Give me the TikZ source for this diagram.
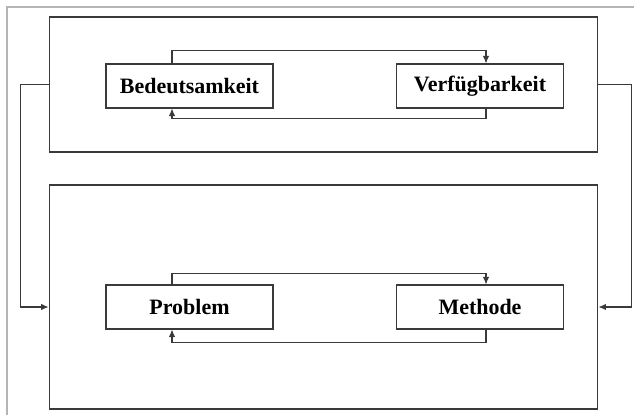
\documentclass[tikz,border=0pt]{standalone}
\usepackage{fontspec}
\setmainfont{Liberation Serif}
\usepackage{tikz}
\usetikzlibrary{arrows.meta, positioning, calc}
\usepackage{xcolor}
\definecolor{ink}{HTML}{3A3A3A}
\definecolor{rim}{HTML}{B4B4B4}

\begin{document}
\begin{tikzpicture}[x=0.02cm, y=0.02cm,
    every node/.style={font=\fontsize{12.5}{15}\selectfont\bfseries},
    frame/.style={draw=ink, line width=0.6pt, inner sep=0pt},
    box/.style={draw=ink, line width=0.6pt, fill=white, minimum width=3.34cm, minimum height=0.88cm, inner sep=0pt},
    link/.style={draw=ink, line width=0.6pt, -{Latex[length=1.5mm, width=1.3mm]}}]
    \useasboundingbox (0,0) rectangle (634,415);
    % image border
    \draw[rim, line width=0.6pt] (7,0) -- (7,408) -- (634,408);
    % the two frames
    \node[frame, minimum width=10.98cm, minimum height=2.7cm] (upper) at (323.5,330.5) {};
    \node[frame, minimum width=10.98cm, minimum height=4.48cm] (lower) at (323.5,118) {};
    % boxes
    \node[box] (bed) at (189.5,329) {Bedeutsamkeit};
    \node[box] (verf) at (480,329) {Verfügbarkeit};
    \node[box] (prob) at (189.5,108) {Problem};
    \node[box] (meth) at (480,108) {Methode};
    % loops
    \draw[link] ([xshift=-3.5mm]bed.north) -- ++(0,13) -| ([xshift=1.2mm]verf.north);
    \draw[link] ([xshift=1.2mm]verf.south) -- ++(0,-10) -| ([xshift=-3.5mm]bed.south);
    \draw[link] ([xshift=-3.5mm]prob.north) -- ++(0,11) -| ([xshift=1.2mm]meth.north);
    \draw[link] ([xshift=1.2mm]meth.south) -- ++(0,-13) -| ([xshift=-3.5mm]prob.south);
    % frame to frame
    \draw[link] (upper.west) -- ++(-28,0) |- (lower.west |- prob);
    \draw[link] (upper.east) -- ++(33,0) |- (lower.east |- meth);
\end{tikzpicture}
\end{document}
